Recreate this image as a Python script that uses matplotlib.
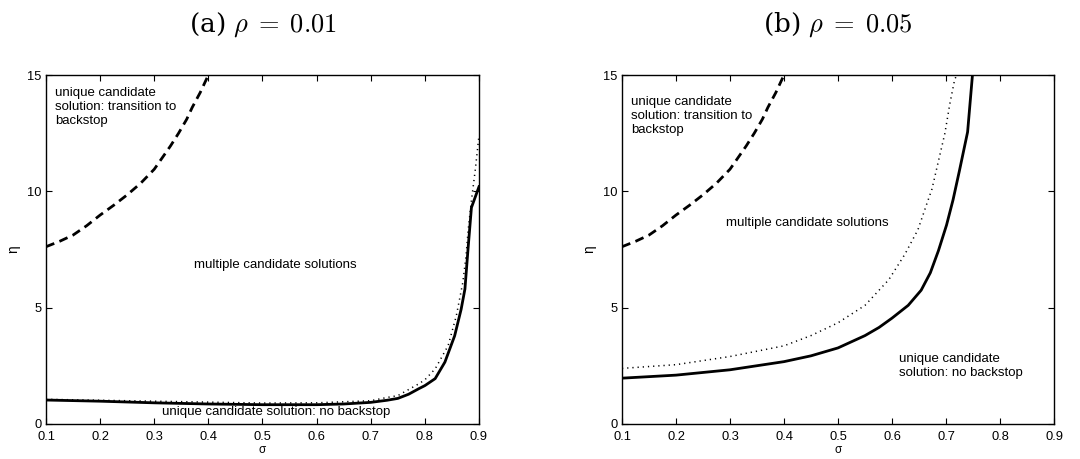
import matplotlib
matplotlib.use("Agg")
import matplotlib.pyplot as plt

plt.rcParams['font.family'] = ['Liberation Sans', 'DejaVu Sans']
plt.rcParams['mathtext.fontset'] = 'cm'

# ---- data ----
dash_x = [0.10, 0.125, 0.15, 0.175, 0.20, 0.225, 0.25, 0.275, 0.30, 0.315, 0.33, 0.345, 0.36, 0.37, 0.385, 0.40]
dash_y = [7.62, 7.85, 8.12, 8.52, 8.98, 9.40, 9.85, 10.35, 10.95, 11.45, 11.95, 12.5, 13.1, 13.6, 14.25, 15.0]

a_solid_x = [0.10, 0.20, 0.30, 0.40, 0.50, 0.60, 0.65, 0.70, 0.73, 0.75, 0.77, 0.789, 0.80, 0.819, 0.837, 0.855, 0.867, 0.874, 0.880, 0.886, 0.893, 0.90]
a_solid_y = [1.03, 0.98, 0.91, 0.86, 0.83, 0.83, 0.86, 0.93, 1.02, 1.10, 1.28, 1.52, 1.65, 1.95, 2.66, 3.79, 4.93, 5.80, 7.60, 9.30, 9.75, 10.20]
a_dot_x = [0.10, 0.30, 0.50, 0.60, 0.70, 0.73, 0.75, 0.789, 0.80, 0.819, 0.843, 0.858, 0.870, 0.876, 0.880, 0.886, 0.893, 0.90]
a_dot_y = [1.06, 0.98, 0.90, 0.91, 1.00, 1.14, 1.22, 1.73, 1.90, 2.37, 3.37, 4.64, 6.07, 7.20, 8.34, 9.60, 10.90, 12.40]

b_solid_x = [0.10, 0.20, 0.30, 0.40, 0.45, 0.50, 0.55, 0.576, 0.60, 0.63, 0.654, 0.671, 0.686, 0.701, 0.713, 0.725, 0.74, 0.749]
b_solid_y = [1.97, 2.10, 2.33, 2.68, 2.93, 3.27, 3.80, 4.15, 4.55, 5.10, 5.75, 6.50, 7.45, 8.55, 9.63, 10.90, 12.55, 15.0]
b_dot_x = [0.10, 0.20, 0.30, 0.40, 0.45, 0.50, 0.55, 0.594, 0.624, 0.648, 0.665, 0.674, 0.686, 0.698, 0.707, 0.716, 0.72]
b_dot_y = [2.39, 2.55, 2.90, 3.36, 3.80, 4.35, 5.10, 6.20, 7.30, 8.35, 9.50, 10.10, 11.30, 12.50, 13.75, 14.80, 15.0]

titles = [r'(a) $\rho\;=\;0.01$', r'(b) $\rho\;=\;0.05$']
x_ticks = [0.1, 0.2, 0.3, 0.4, 0.5, 0.6, 0.7, 0.8, 0.9]
y_ticks = [0, 5, 10, 15]

fig = plt.figure(figsize=(10.8, 4.59), dpi=100)
W, H = 1080, 459
ax_a = fig.add_axes([46 / W, 1 - 424 / H, 433 / W, 349 / H])
ax_b = fig.add_axes([622 / W, 1 - 424 / H, 432 / W, 349 / H])

def style(ax):
    ax.set_xlim(0.1, 0.9)
    ax.set_ylim(0, 15)
    ax.set_xticks(x_ticks)
    ax.set_xticklabels([f'{t:g}' for t in x_ticks])
    ax.set_yticks(y_ticks)
    ax.tick_params(direction='in', top=True, right=True, length=4, width=0.8,
                   labelsize=9.3)
    ax.tick_params(axis='x', pad=5)
    ax.tick_params(axis='y', pad=3)
    for s in ax.spines.values():
        s.set_linewidth(1.0)
    ax.set_xlabel('σ', fontsize=8.5, labelpad=0.5)
    ax.set_ylabel('η', fontsize=9.8, labelpad=5)

for ax in (ax_a, ax_b):
    ax.plot(dash_x, dash_y, color='black', lw=2.0, dashes=(3.2, 2.0))
    style(ax)

ax_a.plot(a_dot_x, a_dot_y, color='black', lw=1.1, linestyle=(0, (0.8, 2.6)))
ax_a.plot(a_solid_x, a_solid_y, color='black', lw=2.0)
ax_b.plot(b_dot_x, b_dot_y, color='black', lw=1.1, linestyle=(0, (0.8, 2.6)))
ax_b.plot(b_solid_x, b_solid_y, color='black', lw=2.0)

fs = 9.5
ax_a.text(0.117, 14.5, 'unique candidate\nsolution: transition to\nbackstop', fontsize=fs,
          va='top', ha='left', linespacing=1.25)
ax_a.text(0.373, 6.82, 'multiple candidate solutions', fontsize=fs, va='center', ha='left')
ax_a.text(0.314, 0.52, 'unique candidate solution: no backstop', fontsize=fs, va='center', ha='left')

ax_b.text(0.117, 14.1, 'unique candidate\nsolution: transition to\nbackstop', fontsize=fs,
          va='top', ha='left', linespacing=1.25)
ax_b.text(0.292, 8.65, 'multiple candidate solutions', fontsize=fs, va='center', ha='left')
ax_b.text(0.613, 2.48, 'unique candidate\nsolution: no backstop', fontsize=fs, va='center',
          ha='left', linespacing=1.25)

fig.text((46 + 433 / 2) / W, 1 - 25 / H, titles[0], fontsize=19, ha='center', va='center',
         family=['DejaVu Serif'])
fig.text((622 + 432 / 2) / W, 1 - 25 / H, titles[1], fontsize=19, ha='center', va='center',
         family=['DejaVu Serif'])

fig.savefig('out.png', dpi=100)
